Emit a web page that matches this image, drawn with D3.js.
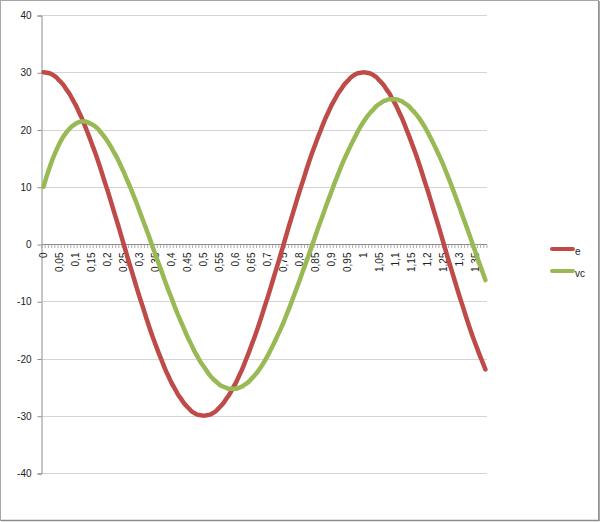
<!DOCTYPE html>
<html>
<head>
<meta charset="utf-8">
<script src="https://cdn.jsdelivr.net/npm/d3@7"></script>
<style>
  body { margin: 0; background: #fff; }
  svg { display: block; font-family: "Liberation Sans", Arial, sans-serif; }
</style>
</head>
<body>
<script>
  // time values (s), one category per 0.01
  var times = [
    0, 0.01, 0.02, 0.03, 0.04, 0.05, 0.06, 0.07, 0.08, 0.09,
    0.10, 0.11, 0.12, 0.13, 0.14, 0.15, 0.16, 0.17, 0.18, 0.19,
    0.20, 0.21, 0.22, 0.23, 0.24, 0.25, 0.26, 0.27, 0.28, 0.29,
    0.30, 0.31, 0.32, 0.33, 0.34, 0.35, 0.36, 0.37, 0.38, 0.39,
    0.40, 0.41, 0.42, 0.43, 0.44, 0.45, 0.46, 0.47, 0.48, 0.49,
    0.50, 0.51, 0.52, 0.53, 0.54, 0.55, 0.56, 0.57, 0.58, 0.59,
    0.60, 0.61, 0.62, 0.63, 0.64, 0.65, 0.66, 0.67, 0.68, 0.69,
    0.70, 0.71, 0.72, 0.73, 0.74, 0.75, 0.76, 0.77, 0.78, 0.79,
    0.80, 0.81, 0.82, 0.83, 0.84, 0.85, 0.86, 0.87, 0.88, 0.89,
    0.90, 0.91, 0.92, 0.93, 0.94, 0.95, 0.96, 0.97, 0.98, 0.99,
    1.00, 1.01, 1.02, 1.03, 1.04, 1.05, 1.06, 1.07, 1.08, 1.09,
    1.10, 1.11, 1.12, 1.13, 1.14, 1.15, 1.16, 1.17, 1.18, 1.19,
    1.20, 1.21, 1.22, 1.23, 1.24, 1.25, 1.26, 1.27, 1.28, 1.29,
    1.30, 1.31, 1.32, 1.33, 1.34, 1.35, 1.36, 1.37, 1.38
  ];

  var eValues = [
    30.0, 29.9, 29.8, 29.5, 29.1, 28.5, 27.9, 27.1, 26.3, 25.3,
    24.3, 23.1, 21.9, 20.5, 19.1, 17.6, 16.1, 14.5, 12.8, 11.0,
    9.3, 7.5, 5.6, 3.8, 1.9, 0.0, -1.9, -3.8, -5.6, -7.5,
    -9.3, -11.0, -12.8, -14.5, -16.1, -17.6, -19.1, -20.5, -21.9, -23.1,
    -24.3, -25.3, -26.3, -27.1, -27.9, -28.5, -29.1, -29.5, -29.8, -29.9,
    -30.0, -29.9, -29.8, -29.5, -29.1, -28.5, -27.9, -27.1, -26.3, -25.3,
    -24.3, -23.1, -21.9, -20.5, -19.1, -17.6, -16.1, -14.5, -12.8, -11.0,
    -9.3, -7.5, -5.6, -3.8, -1.9, 0.0, 1.9, 3.8, 5.6, 7.5,
    9.3, 11.0, 12.8, 14.5, 16.1, 17.6, 19.1, 20.5, 21.9, 23.1,
    24.3, 25.3, 26.3, 27.1, 27.9, 28.5, 29.1, 29.5, 29.8, 29.9,
    30.0, 29.9, 29.8, 29.5, 29.1, 28.5, 27.9, 27.1, 26.3, 25.3,
    24.3, 23.1, 21.9, 20.5, 19.1, 17.6, 16.1, 14.5, 12.8, 11.0,
    9.3, 7.5, 5.6, 3.8, 1.9, 0.0, -1.9, -3.8, -5.6, -7.5,
    -9.3, -11.0, -12.8, -14.5, -16.1, -17.6, -19.1, -20.5, -21.9
  ];

  var vcValues = [
    10.0, 11.9, 13.6, 15.1, 16.4, 17.6, 18.6, 19.4, 20.1, 20.6,
    21.0, 21.3, 21.4, 21.4, 21.2, 20.9, 20.6, 20.1, 19.4, 18.7,
    17.9, 17.0, 16.0, 15.0, 13.8, 12.6, 11.3, 10.0, 8.6, 7.2,
    5.7, 4.2, 2.7, 1.2, -0.4, -2.0, -3.5, -5.0, -6.6, -8.1,
    -9.5, -11.0, -12.4, -13.7, -15.0, -16.3, -17.4, -18.6, -19.6, -20.6,
    -21.4, -22.2, -23.0, -23.6, -24.1, -24.6, -24.9, -25.1, -25.3, -25.3,
    -25.3, -25.1, -24.9, -24.5, -24.1, -23.5, -22.9, -22.2, -21.4, -20.5,
    -19.5, -18.4, -17.3, -16.1, -14.9, -13.6, -12.2, -10.8, -9.3, -7.8,
    -6.3, -4.7, -3.2, -1.6, 0.0, 1.6, 3.2, 4.7, 6.3, 7.8,
    9.3, 10.8, 12.2, 13.6, 14.9, 16.1, 17.3, 18.4, 19.5, 20.5,
    21.4, 22.2, 22.9, 23.5, 24.1, 24.5, 24.9, 25.1, 25.3, 25.3,
    25.3, 25.1, 24.9, 24.5, 24.1, 23.5, 22.9, 22.2, 21.4, 20.5,
    19.5, 18.4, 17.3, 16.1, 14.9, 13.6, 12.2, 10.8, 9.3, 7.8,
    6.3, 4.7, 3.2, 1.6, 0.0, -1.6, -3.2, -4.7, -6.3
  ];

  var yTicks = [-40, -30, -20, -10, 0, 10, 20, 30, 40];
  var seriesNames = ["e", "vc"];
  var seriesColors = ["#be4b48", "#98b954"];

  var width = 600, height = 522;

  var svg = d3.select("body").append("svg")
    .attr("width", width)
    .attr("height", height);

  // outer chart frame
  svg.append("rect")
    .attr("x", 0.5).attr("y", 0.5)
    .attr("width", 598).attr("height", 520)
    .attr("fill", "#fff")
    .attr("stroke", "#a6a6a6");
  svg.append("path")
    .attr("d", "M599,1V520.5H1")
    .attr("fill", "none")
    .attr("stroke", "#8c8c8c")
    .attr("stroke-width", 1.5);

  var x = d3.scaleBand()
    .domain(times)
    .range([42, 487])
    .padding(0);

  var y = d3.scaleLinear()
    .domain([-40, 40])
    .range([473, 15]);

  // horizontal gridlines
  svg.append("g").selectAll("line")
    .data(yTicks)
    .enter().append("line")
    .attr("x1", 42).attr("x2", 487)
    .attr("y1", function(d) { return Math.round(y(d)) + 0.5; })
    .attr("y2", function(d) { return Math.round(y(d)) + 0.5; })
    .attr("stroke", "#d4d4d4");

  // y axis
  var yAxis = svg.append("g")
    .attr("transform", "translate(41.5,0.5)")
    .call(d3.axisLeft(y).tickValues(yTicks).tickSize(4).tickPadding(6)
      .tickFormat(function(d) { return d; }));
  yAxis.select(".domain").attr("stroke", "#8c8c8c");
  yAxis.selectAll(".tick line").attr("stroke", "#8c8c8c");
  yAxis.selectAll(".tick text")
    .attr("font-family", "Liberation Sans, Arial, sans-serif")
    .attr("font-size", 10).attr("fill", "#222");

  // x axis at zero: category ticks between bands, labels every 0.05
  var zeroY = Math.round(y(0)) + 0.5;
  var xg = svg.append("g");
  xg.append("line")
    .attr("x1", 42).attr("x2", 487)
    .attr("y1", zeroY).attr("y2", zeroY)
    .attr("stroke", "#8c8c8c");
  xg.selectAll("line.tk")
    .data(times.concat([null]))
    .enter().append("line")
    .attr("class", "tk")
    .attr("x1", function(d, i) { return i < times.length ? x(d) : x.range()[1]; })
    .attr("x2", function(d, i) { return i < times.length ? x(d) : x.range()[1]; })
    .attr("y1", zeroY).attr("y2", zeroY + 3.5)
    .attr("stroke", "#9a9a9a")
    .attr("stroke-width", 0.8);

  xg.selectAll("text")
    .data(times.filter(function(d, i) { return i % 5 === 0; }))
    .enter().append("text")
    .attr("transform", function(d) {
      return "translate(" + (x(d) + x.bandwidth() / 2 + 3.5) + "," + (zeroY + 8) + ") rotate(-90)";
    })
    .attr("text-anchor", "end")
    .attr("font-size", 10)
    .attr("fill", "#222")
    .text(function(d) { return String(+d.toFixed(2)).replace(".", ","); });

  // series lines
  var line = d3.line()
    .x(function(d, i) { return x(times[i]) + x.bandwidth() / 2; })
    .y(function(d) { return y(d); })
    .curve(d3.curveMonotoneX);

  [eValues, vcValues].forEach(function(vals, k) {
    svg.append("path")
      .datum(vals)
      .attr("d", line)
      .attr("fill", "none")
      .attr("stroke", seriesColors[k])
      .attr("stroke-width", 4.5)
      .attr("stroke-linejoin", "round")
      .attr("stroke-linecap", "round");
  });

  // legend
  var legend = svg.append("g").selectAll("g")
    .data(seriesNames)
    .enter().append("g")
    .attr("transform", function(d, i) { return "translate(552," + (249 + i * 22) + ")"; });
  legend.append("line")
    .attr("x1", 0).attr("x2", 21)
    .attr("stroke", function(d, i) { return seriesColors[i]; })
    .attr("stroke-width", 4)
    .attr("stroke-linecap", "round");
  legend.append("text")
    .attr("x", 23).attr("y", 6)
    .attr("font-size", 10)
    .attr("fill", "#222")
    .text(function(d) { return d; });
</script>
</body>
</html>
